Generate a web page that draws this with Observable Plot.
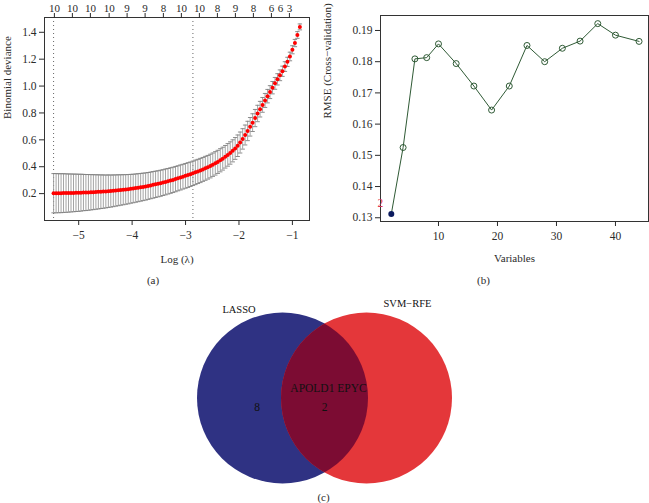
<!DOCTYPE html>
<html><head><meta charset="utf-8">
<script src="https://cdn.jsdelivr.net/npm/d3@7"></script>
<script src="https://cdn.jsdelivr.net/npm/@observablehq/plot@0.6"></script>
<style>
body{margin:0;background:#fff;}
#wrap{position:relative;width:649px;height:503px;overflow:hidden;background:#fff;}
#wrap svg{position:absolute;overflow:visible;}
</style></head><body><div id="wrap"></div><script>
// ---------- Panel (a): LASSO cross-validation ----------
const logLambda = [-5.470,-5.423,-5.377,-5.330,-5.284,-5.237,-5.191,-5.144,-5.097,-5.051,
-5.004,-4.958,-4.911,-4.865,-4.818,-4.771,-4.725,-4.678,-4.632,-4.585,
-4.539,-4.492,-4.445,-4.399,-4.352,-4.306,-4.259,-4.213,-4.166,-4.120,
-4.073,-4.026,-3.980,-3.933,-3.887,-3.840,-3.794,-3.747,-3.700,-3.654,
-3.607,-3.561,-3.514,-3.468,-3.421,-3.375,-3.328,-3.281,-3.235,-3.188,
-3.142,-3.095,-3.049,-3.002,-2.955,-2.909,-2.862,-2.816,-2.769,-2.723,
-2.676,-2.630,-2.583,-2.536,-2.490,-2.443,-2.397,-2.350,-2.304,-2.257,
-2.210,-2.164,-2.117,-2.071,-2.024,-1.978,-1.931,-1.885,-1.838,-1.791,
-1.745,-1.698,-1.652,-1.605,-1.559,-1.512,-1.465,-1.419,-1.372,-1.326,
-1.279,-1.233,-1.186,-1.140,-1.093,-1.046,-1.000,-0.953,-0.907,-0.860];
const devianceMean = [0.203,0.203,0.203,0.203,0.204,0.204,0.204,0.205,0.205,0.206,
0.206,0.207,0.208,0.208,0.209,0.210,0.211,0.212,0.213,0.214,
0.215,0.216,0.218,0.219,0.221,0.223,0.225,0.227,0.229,0.231,
0.233,0.236,0.238,0.241,0.244,0.247,0.250,0.253,0.257,0.261,
0.265,0.269,0.273,0.277,0.282,0.287,0.292,0.297,0.302,0.308,
0.314,0.320,0.326,0.332,0.338,0.344,0.351,0.358,0.365,0.372,
0.380,0.388,0.396,0.405,0.415,0.425,0.436,0.448,0.460,0.474,
0.488,0.502,0.518,0.536,0.556,0.580,0.607,0.636,0.666,0.697,
0.728,0.762,0.796,0.828,0.860,0.893,0.925,0.955,0.988,1.020,
1.050,1.080,1.110,1.145,1.180,1.220,1.270,1.320,1.380,1.440];
const devianceSE = [0.146,0.146,0.145,0.145,0.144,0.143,0.142,0.141,0.140,0.139,
0.138,0.137,0.135,0.134,0.133,0.131,0.130,0.128,0.127,0.125,
0.124,0.122,0.121,0.119,0.118,0.116,0.115,0.113,0.112,0.110,
0.109,0.107,0.106,0.105,0.104,0.103,0.102,0.101,0.100,0.099,
0.099,0.098,0.097,0.097,0.096,0.096,0.095,0.095,0.094,0.094,
0.093,0.093,0.092,0.092,0.092,0.091,0.091,0.091,0.090,0.090,
0.089,0.089,0.088,0.088,0.087,0.087,0.086,0.086,0.085,0.084,
0.084,0.083,0.082,0.081,0.080,0.078,0.076,0.074,0.072,0.069,
0.066,0.064,0.061,0.058,0.055,0.052,0.050,0.048,0.046,0.044,
0.042,0.040,0.038,0.036,0.034,0.032,0.030,0.027,0.025,0.022];
const lambdaLines = [-5.470, -2.862]; // lambda.min, lambda.1se
const yTicksA = [0.2, 0.4, 0.6, 0.8, 1.0, 1.2, 1.4];
const xTicksA = [-5, -4, -3, -2, -1];
const topTickX = [-5.455,-5.118,-4.781,-4.430,-4.094,-3.757,-3.415,-3.078,-2.741,-2.404,-2.067,-1.730,-1.393,-1.056];
const topLabelX = [-5.455,-5.118,-4.781,-4.430,-4.094,-3.757,-3.415,-3.078,-2.741,-2.404,-2.067,-1.730,-1.393,-1.225,-1.056];
const topLabels = ["10","10","10","10","9","9","8","10","10","8","9","8","6","6","3"];

// ---------- Panel (b): SVM-RFE ----------
const rfeVars = [2,4,6,8,10,13,16,19,22,25,28,31,34,37,40,44];
const rfeRMSE = [0.1312,0.1525,0.1809,0.1813,0.1857,0.1794,0.1722,0.1645,0.1722,0.1852,0.1800,0.1843,0.1866,0.1922,0.1885,0.1865];
const yTicksB = [0.13,0.14,0.15,0.16,0.17,0.18,0.19];
const xTicksB = [10,20,30,40];

// ---------- Panel (c): Venn ----------
const vennSets = ["LASSO", "SVM-RFE"];
const vennOnly = [8, 0];
const sharedCount = 2;
const sharedGenes = ["APOLD1", "EPYC"];

const FONT = "'Liberation Serif', 'DejaVu Serif', serif";
const TXT = "#2b2b2b";
const wrap = document.getElementById("wrap");
const minus = d => (d < 0 ? "\u2212" + Math.abs(d) : String(d));

const cv = logLambda.map((x, i) => ({x, mean: devianceMean[i], lo: devianceMean[i] - devianceSE[i], hi: devianceMean[i] + devianceSE[i]}));
const hbar = {draw(ctx, size) { const w = Math.sqrt(size / Math.PI); ctx.moveTo(-w, 0); ctx.lineTo(w, 0); }};

const chartA = Plot.plot({
  width: 320, height: 300,
  marginLeft: 44, marginRight: 11, marginTop: 17, marginBottom: 80,
  style: {fontFamily: FONT, fontSize: "11px", color: TXT, background: "transparent", overflow: "visible"},
  x: {domain: [-5.64, -0.68]},
  y: {domain: [0, 1.51]},
  marks: [
    Plot.ruleX(lambdaLines, {x: d => d, stroke: "#666", strokeDasharray: "1,3"}),
    Plot.ruleX(cv, {x: "x", y1: "lo", y2: "hi", stroke: "#9a9a9a", strokeWidth: 0.9}),
    Plot.dot(cv, {x: "x", y: "hi", symbol: hbar, r: 2.2, fill: "none", stroke: "#808080", strokeWidth: 0.9}),
    Plot.dot(cv, {x: "x", y: "lo", symbol: hbar, r: 2.2, fill: "none", stroke: "#808080", strokeWidth: 0.9}),
    Plot.dot(cv, {x: "x", y: "mean", r: 2, fill: "#ff0000", stroke: null}),
    Plot.frame({stroke: "#333"}),
    Plot.axisY({ticks: yTicksA, tickSize: 5, tickPadding: 3, tickFormat: d => d.toFixed(1), label: null, fontSize: 11.5}),
    Plot.axisX({ticks: xTicksA, tickSize: 5, tickPadding: 5, tickFormat: minus, label: null, fontSize: 11.5}),
    Plot.axisX({anchor: "top", ticks: topTickX, tickSize: 5, tickFormat: () => "", label: null}),
    Plot.text(topLabels, {x: (d, i) => topLabelX[i], text: d => d, frameAnchor: "top", dy: -13.5, fontSize: 11}),
    Plot.text(["Log (\u03bb)"], {frameAnchor: "bottom", dy: 42, fontSize: 11}),
    Plot.text(["(a)"], {frameAnchor: "bottom", dx: -24, dy: 63, fontSize: 11}),
    Plot.text(["Binomial deviance"], {frameAnchor: "left", rotate: -90, dx: -37, fontSize: 11})
  ]
});
chartA.style.left = "0px"; chartA.style.top = "0px";
wrap.appendChild(chartA);

const rfe = rfeVars.map((v, i) => ({vars: v, rmse: rfeRMSE[i]}));
const bestIdx = d3.minIndex(rfeRMSE);
const best = [rfe[bestIdx]];
const chartB = Plot.plot({
  width: 329, height: 300,
  marginLeft: 60, marginRight: 1, marginTop: 15, marginBottom: 79,
  style: {fontFamily: FONT, fontSize: "11px", color: TXT, background: "transparent", overflow: "visible"},
  x: {domain: [0.17, 45.6]},
  y: {domain: [0.1288, 0.1948]},
  marks: [
    Plot.frame({stroke: "#333"}),
    Plot.axisY({ticks: yTicksB, tickSize: 5, tickPadding: 3, tickFormat: d => d.toFixed(2), label: null, fontSize: 11.5}),
    Plot.axisX({ticks: xTicksB, tickSize: 5, tickPadding: 5, label: null, fontSize: 11.5}),
    Plot.line(rfe, {x: "vars", y: "rmse", stroke: "#2f5a35", strokeWidth: 1}),
    Plot.dot(rfe.filter((d, i) => i !== bestIdx), {x: "vars", y: "rmse", r: 3, stroke: "#2f5a35", fill: "none", strokeWidth: 1}),
    Plot.dot(best, {x: "vars", y: "rmse", r: 3, fill: "#0b1a5e", stroke: null}),
    Plot.text(best, {x: "vars", y: "rmse", text: d => String(d.vars), fill: "#e2364f", dx: -11, dy: -11, fontSize: 11.5}),
    Plot.text(["Variables"], {frameAnchor: "bottom", dy: 40, fontSize: 11}),
    Plot.text(["(b)"], {frameAnchor: "bottom", dx: -31, dy: 62, fontSize: 11}),
    Plot.text(["RMSE (Cross\u2212validation)"], {frameAnchor: "left", rotate: -90, dx: -53, fontSize: 11})
  ]
});
chartB.style.left = "320px"; chartB.style.top = "0px";
wrap.appendChild(chartB);

const R = 85.5;
const chartC = Plot.plot({
  width: 350, height: 213,
  marginLeft: 0, marginRight: 0, marginTop: 2, marginBottom: 0,
  style: {fontFamily: FONT, fontSize: "11px", color: "#111", background: "transparent", overflow: "visible"},
  x: {type: "point", domain: ["LASSO", "shared", "SVM-RFE"], range: [131.5, 217], padding: 0, axis: null},
  marks: [
    Plot.dot([vennSets[0]], {x: d => d, r: R, fill: "#2f3283", stroke: null}),
    Plot.dot([vennSets[1]], {x: d => d, r: R, fill: "#e4373a", stroke: null}),
    Plot.dot([vennSets[0]], {x: d => d, r: R, fill: "#7c0c33", stroke: null,
      render(index, scales, values, dimensions, context, next) {
        const g = next(index, scales, values, dimensions, context);
        const ns = "http://www.w3.org/2000/svg";
        const circles = Array.from(g.querySelectorAll("circle"));
        const c0 = circles[0];
        const cx0 = +c0.getAttribute("cx");
        const cyAttr = c0.getAttribute("cy");
        const cy = cyAttr != null ? +cyAttr : (dimensions.marginTop + dimensions.height - dimensions.marginBottom) / 2;
        const cp = context.document.createElementNS(ns, "clipPath");
        cp.setAttribute("id", "venn-overlap-clip");
        const cc = context.document.createElementNS(ns, "circle");
        cc.setAttribute("cx", cx0 + (scales.x(vennSets[1]) - scales.x(vennSets[0])));
        cc.setAttribute("cy", cy);
        cc.setAttribute("r", R);
        cp.appendChild(cc);
        g.insertBefore(cp, g.firstChild);
        circles.forEach(c => c.setAttribute("clip-path", "url(#venn-overlap-clip)"));
        return g;
      }}),
    Plot.text([vennSets[0]], {x: d => d, text: d => d, dx: -43.5, dy: -88.5, fontSize: 10.5}),
    Plot.text([vennSets[1]], {x: d => d, text: d => d.replace("-", "\u2212"), dx: 41, dy: -94.5, fontSize: 10.5}),
    Plot.text([vennOnly[0]], {x: () => vennSets[0], text: d => String(d), dx: -25.5, dy: 9.5, fontSize: 11.5}),
    Plot.text([sharedCount], {x: () => "shared", text: d => String(d), dy: 9.5, fontSize: 11.5}),
    Plot.text([sharedGenes.join(" ")], {x: () => "shared", text: d => d, dx: 4, dy: -9.5, fontSize: 11.5}),
    Plot.text(["(c)"], {x: () => "shared", text: d => d, dx: -1, dy: 99.5, fontSize: 11, fill: TXT})
  ]
});
chartC.style.left = "150px"; chartC.style.top = "290px";
wrap.appendChild(chartC);
</script></body></html>
